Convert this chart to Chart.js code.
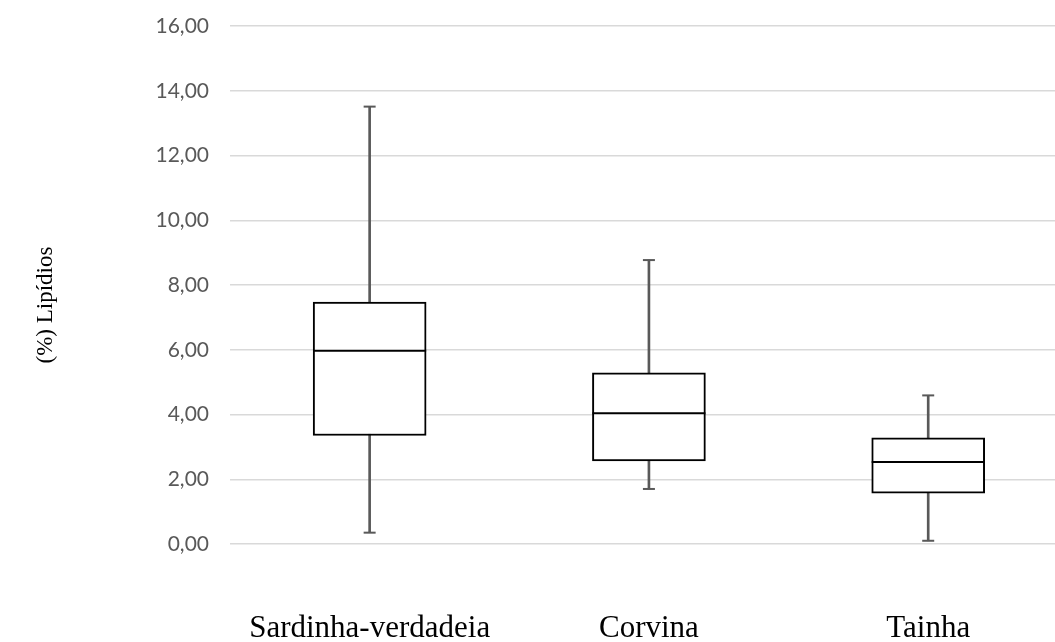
<!DOCTYPE html>
<html>
<head>
<meta charset="utf-8">
<script src="https://cdn.jsdelivr.net/npm/chart.js@4/dist/chart.umd.min.js"></script>
<style>
  html, body { margin: 0; padding: 0; background: #fff; }
  canvas { display: block; }
</style>
</head>
<body>
<canvas id="boxChart" width="1055" height="642"></canvas>
<script>
// values
const categories = ['Sardinha-verdadeia', 'Corvina', 'Tainha'];
const minValues = [0.35, 1.70, 0.10];
const q1Values = [3.35, 2.57, 1.57];
const medianValues = [5.97, 4.04, 2.53];
const q3Values = [7.47, 5.29, 3.28];
const maxValues = [13.51, 8.77, 4.59];
const yTicks = [0, 2, 4, 6, 8, 10, 12, 14, 16];
const yTitle = '(%) Lipídios';

const boxData = categories.map((c, i) => ({ x: i, y: [q1Values[i], q3Values[i]] }));
const whiskerData = categories.map((c, i) => ({ x: i, y: [minValues[i], maxValues[i]] }));
const medianData = categories.map((c, i) => ({ x: i, y: medianValues[i] }));
const capData = [];
categories.forEach((c, i) => {
  capData.push({ x: i, y: minValues[i] });
  capData.push({ x: i, y: maxValues[i] });
});

// rotated y title, drawn left of the tick labels
const yTitlePlugin = {
  id: 'yTitle',
  afterDraw(chart) {
    const ctx = chart.ctx;
    ctx.save();
    ctx.translate(46, 305);
    ctx.rotate(-Math.PI / 2);
    ctx.font = '23px "Liberation Serif"';
    ctx.fillStyle = '#000';
    ctx.textAlign = 'center';
    ctx.textBaseline = 'middle';
    ctx.fillText(yTitle, 0, 0);
    ctx.restore();
  }
};

new Chart(document.getElementById('boxChart').getContext('2d'), {
  type: 'bar',
  data: {
    datasets: [
      {
        type: 'line',
        data: medianData,
        showLine: false,
        pointStyle: 'line',
        pointRadius: 56.5,
        pointHoverRadius: 56.5,
        borderColor: '#000',
        borderWidth: 2
      },
      {
        type: 'line',
        data: capData,
        showLine: false,
        pointStyle: 'line',
        pointRadius: 6,
        pointHoverRadius: 6,
        borderColor: '#595959',
        borderWidth: 2
      },
      {
        data: boxData,
        backgroundColor: '#fff',
        borderColor: '#000',
        borderWidth: 2,
        borderSkipped: false,
        barThickness: 113,
        grouped: false
      },
      {
        data: whiskerData,
        backgroundColor: '#595959',
        borderWidth: 0,
        barThickness: 2,
        grouped: false
      }
    ]
  },
  options: {
    responsive: false,
    animation: false,
    layout: { autoPadding: false, padding: { top: 26, right: 0, bottom: 0, left: 0 } },
    plugins: {
      legend: { display: false },
      tooltip: { enabled: false }
    },
    scales: {
      x: {
        type: 'linear',
        offset: false,
        min: -0.5,
        max: 2.454,
        grid: { display: false },
        border: { display: false },
        afterBuildTicks: scale => {
          scale.ticks = categories.map((c, i) => ({ value: i }));
        },
        afterFit: scale => { scale.height = 98; },
        ticks: {
          autoSkip: false,
          maxRotation: 0,
          padding: 58,
          color: '#000',
          font: { family: '"Liberation Serif"', size: 31 },
          callback: v => categories[v]
        }
      },
      y: {
        min: 0,
        max: 16,
        afterBuildTicks: scale => {
          scale.ticks = yTicks.map(v => ({ value: v }));
        },
        afterFit: scale => {
          scale.width = 230;
          scale.paddingTop = 0;
        },
        grid: { color: '#d9d9d9', lineWidth: 1.5, drawTicks: false },
        border: { display: false },
        ticks: {
          padding: 21,
          color: '#595959',
          font: { family: 'Lato', size: 21 },
          callback: v => v.toFixed(2).replace('.', ',')
        }
      }
    }
  },
  plugins: [yTitlePlugin]
});
</script>
</body>
</html>
